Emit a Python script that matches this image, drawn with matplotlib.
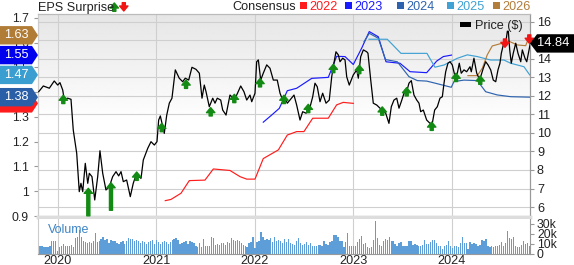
import matplotlib
matplotlib.use('Agg')
import matplotlib.pyplot as plt
import matplotlib.transforms as mtransforms
from matplotlib.patches import Polygon, Rectangle
from matplotlib.ticker import FuncFormatter
import numpy as np

plt.rcParams['font.family'] = ['Liberation Sans', 'DejaVu Sans']

# ---- data (x in decimal years) ----
price_t = [2019.804, 2019.851, 2019.912, 2019.962, 2019.997, 2020.020, 2020.048, 2020.064, 2020.098, 2020.132,
           2020.155, 2020.190, 2020.216, 2020.233, 2020.251, 2020.277, 2020.302, 2020.318, 2020.345, 2020.373,
           2020.403, 2020.426, 2020.454, 2020.487, 2020.521, 2020.555, 2020.589, 2020.616, 2020.640, 2020.663,
           2020.697, 2020.734, 2020.764, 2020.792, 2020.843, 2020.866, 2020.911, 2020.944, 2020.978, 2021.005,
           2021.022, 2021.039, 2021.056, 2021.079, 2021.104, 2021.130, 2021.157, 2021.191, 2021.231, 2021.266,
           2021.292, 2021.327, 2021.360, 2021.401, 2021.435, 2021.462, 2021.485, 2021.503, 2021.536, 2021.571,
           2021.594, 2021.617, 2021.652, 2021.672, 2021.706, 2021.746, 2021.780, 2021.814, 2021.855, 2021.888,
           2021.916, 2021.949, 2021.967, 2022.000, 2022.017, 2022.034, 2022.058, 2022.084, 2022.119, 2022.152,
           2022.186, 2022.226, 2022.254, 2022.281, 2022.305, 2022.328, 2022.355, 2022.396, 2022.423, 2022.457,
           2022.484, 2022.518, 2022.551, 2022.586, 2022.609, 2022.632, 2022.660, 2022.687, 2022.721, 2022.754,
           2022.779, 2022.795, 2022.822, 2022.846, 2022.863, 2022.890, 2022.914, 2022.931, 2022.957, 2022.998,
           2023.033, 2023.049, 2023.073, 2023.100, 2023.134, 2023.147, 2023.175, 2023.201, 2023.236, 2023.269,
           2023.292, 2023.327, 2023.360, 2023.384, 2023.411, 2023.439, 2023.462, 2023.485, 2023.513, 2023.540,
           2023.563, 2023.587, 2023.614, 2023.642, 2023.665, 2023.682, 2023.709, 2023.743, 2023.777, 2023.800,
           2023.824, 2023.851, 2023.878, 2023.902, 2023.919, 2023.936, 2023.959, 2023.980, 2024.003, 2024.027,
           2024.054, 2024.074, 2024.094, 2024.122, 2024.149, 2024.183, 2024.196, 2024.223, 2024.251, 2024.274,
           2024.291, 2024.318, 2024.342, 2024.366, 2024.393, 2024.419, 2024.444, 2024.467, 2024.487, 2024.501,
           2024.521, 2024.545, 2024.562, 2024.572, 2024.586, 2024.602, 2024.622, 2024.647, 2024.670, 2024.698,
           2024.714, 2024.741, 2024.759, 2024.782, 2024.795]
price_v = [12.23, 12.54, 12.42, 12.81, 12.59, 12.72, 12.32, 11.78, 11.88, 11.82,
           10.16, 8.90, 6.83, 7.28, 6.83, 8.36, 7.28, 7.82, 7.64, 6.38,
           7.64, 9.04, 7.82, 6.92, 7.10, 7.64, 7.91, 7.68, 7.91, 7.37,
           7.46, 6.56, 7.28, 7.73, 7.55, 8.54, 9.17, 9.53, 9.35, 9.53,
           10.70, 10.92, 10.52, 9.98, 10.97, 11.61, 11.88, 13.41, 12.96, 12.77,
           12.96, 12.86, 13.55, 13.44, 13.23, 11.88, 12.59, 12.23, 11.42, 11.88,
           11.61, 11.88, 11.78, 11.24, 10.97, 12.05, 11.88, 12.05, 12.54, 12.23,
           11.78, 12.05, 11.69, 12.15, 13.85, 13.95, 12.86, 13.23, 13.68, 13.50,
           12.86, 12.86, 12.15, 11.78, 11.88, 11.61, 11.78, 12.05, 11.51, 10.70,
           11.15, 11.07, 11.24, 11.96, 12.69, 12.50, 11.69, 12.15, 11.61, 11.78,
           13.04, 13.58, 14.39, 14.22, 13.85, 14.04, 13.95, 13.04, 12.59, 13.14,
           13.41, 12.96, 14.12, 14.49, 14.39, 14.31, 12.86, 11.61, 11.51, 11.34,
           11.24, 11.07, 10.52, 11.42, 11.78, 11.88, 11.34, 11.69, 12.15, 12.23,
           12.69, 12.83, 12.05, 11.78, 11.61, 11.15, 11.24, 10.70, 10.52, 10.52,
           11.24, 11.42, 11.88, 11.96, 12.69, 13.31, 13.77, 13.85, 13.68, 13.14,
           13.23, 13.77, 13.23, 13.41, 13.31, 13.58, 13.31, 14.04, 13.23, 12.96,
           13.04, 13.50, 13.85, 13.68, 13.41, 12.86, 12.77, 13.41, 13.77, 14.31,
           14.76, 14.85, 15.50, 15.50, 14.49, 13.77, 14.31, 14.85, 14.31, 13.85,
           14.49, 14.04, 13.85, 14.49, 14.84]

cons22_t = [2021.089, 2021.147, 2021.249, 2021.333, 2021.492, 2021.577, 2021.746, 2021.848, 2021.916, 2022.000,
            2022.084, 2022.237, 2022.328, 2022.423, 2022.497, 2022.586, 2022.744, 2022.829, 2022.896, 2022.998]
cons22_v = [0.962, 0.967, 0.992, 1.043, 1.045, 1.090, 1.084, 1.059, 1.049, 1.049,
            1.132, 1.167, 1.227, 1.241, 1.241, 1.295, 1.295, 1.349, 1.359, 1.355]
cons23_t = [2022.084, 2022.170, 2022.247, 2022.328, 2022.423, 2022.576, 2022.744, 2022.829, 2022.914, 2022.998,
            2023.083, 2023.160, 2023.252, 2023.330, 2023.472, 2023.574, 2023.743, 2023.845, 2023.912, 2023.995]
cons23_v = [1.279, 1.308, 1.335, 1.406, 1.416, 1.456, 1.460, 1.545, 1.544, 1.512,
            1.578, 1.645, 1.624, 1.523, 1.517, 1.483, 1.479, 1.526, 1.544, 1.55]
cons24_t = [2023.107, 2023.160, 2023.252, 2023.325, 2023.445, 2023.563, 2023.648, 2023.743, 2023.835, 2023.993,
            2024.020, 2024.122, 2024.257, 2024.342, 2024.460, 2024.596, 2024.789]
cons24_v = [1.604, 1.638, 1.618, 1.532, 1.523, 1.463, 1.447, 1.445, 1.436, 1.420,
            1.443, 1.449, 1.447, 1.402, 1.389, 1.382, 1.38]
cons25_t = [2023.157, 2023.343, 2023.482, 2023.746, 2023.827, 2023.919, 2024.054, 2024.156, 2024.257, 2024.393,
            2024.528, 2024.596, 2024.731, 2024.789]
cons25_v = [1.614, 1.614, 1.557, 1.557, 1.501, 1.510, 1.537, 1.551, 1.544, 1.530,
            1.530, 1.517, 1.503, 1.47]
cons26_t = [2024.162, 2024.257, 2024.308, 2024.358, 2024.409, 2024.528, 2024.572, 2024.663, 2024.748, 2024.789]
cons26_v = [1.467, 1.467, 1.497, 1.551, 1.587, 1.600, 1.607, 1.591, 1.588, 1.63]

cons_years = ['2022', '2023', '2024', '2025', '2026']
cons_last = [1.355, 1.55, 1.38, 1.47, 1.63]

surprise_t = [2020.054, 2020.308, 2020.538, 2020.799, 2021.053, 2021.300, 2021.550, 2021.790, 2022.051, 2022.294,
              2022.541, 2022.795, 2023.059, 2023.292, 2023.540, 2023.794, 2024.041, 2024.287, 2024.538, 2024.785]
surprise_v = [12.04, 7.01, 7.31, 7.89, 10.52, 12.86, 11.37, 12.09, 12.94, 12.04,
              11.55, 13.71, 13.66, 11.41, 12.45, 10.59, 13.23, 13.08, 14.63, 14.85]
surprise_up = [True] * 18 + [False, False]
surprise_scale = [1, 3.3, 3.3, 1, 1, 1, 1, 1, 1, 1, 1, 1, 1, 1, 1, 1, 1, 1, 1, 1]

# weekly volume, thousands
volume = [12.7, 8.3, 7.7, 7.3, 6.7, 7.3, 8.3, 13.3, 13.3, 13.3, 3.3, 6.7, 8.3, 10, 7.7, 8.3, 7.7, 9, 6.7, 16,
          16.7, 24, 16.7, 13.3, 11.7, 10.7, 11.7, 11, 13.3, 20.7, 11.7, 13.3, 15, 16.7, 14, 15, 10.7, 14, 12.7, 13.3,
          10.7, 10, 11.7, 13.3, 10, 13.3, 15.7, 15, 15, 12.7, 14, 12.7, 10.7, 13.3, 11.7, 10, 11.7, 13.3, 14, 10,
          14, 12.3, 10, 11.7, 13.3, 11.7, 10, 11.7, 14, 15, 15.7, 14, 10, 10.7, 11.7, 13.3, 10, 13.3, 11.7, 10.7,
          8.3, 6.7, 10.7,
          7.3, 15, 8.3, 7.7, 8.3, 17.3, 16, 9.3, 10, 9.3, 10.7, 10.7, 9.3, 11.7, 11, 16, 14, 12.7, 14, 13.3,
          10.7, 9, 8.3, 6.7, 10.7, 11.7, 16.7, 5.7, 11.7, 13.3, 21.7, 17.3, 14, 15, 14, 16, 11.7, 16.7, 12.7, 14,
          13.3, 10.7, 15, 11.7, 15, 10.7, 10, 9.3, 12.7, 16, 10.7, 9.3, 10, 11.7, 9.3, 10.7, 8.3, 8.3, 7.7, 9,
          9, 7.7, 12.7, 10, 9.3, 11.7, 12.7, 19, 19, 16.7, 12.7, 13.3, 6.7, 11.7, 20.7, 7.7, 8.3, 7.7, 7.7, 11.7,
          15, 18.3, 10,
          10.7, 6.7, 5.7, 7.3, 14, 33.3, 15.7, 9.3, 8.3, 12.7, 15, 14, 17.3, 12.7, 12.7, 10, 8.3, 10.7, 11.7, 7.7,
          7.7, 8.3, 13.3, 13.3, 9.3, 10, 9.3, 7.7, 7.7, 9.3, 14, 10, 10, 11.7, 14.3, 14, 10.7, 7.7, 8.3, 5,
          8.3, 9.3, 13.3, 8.3, 5.7, 8.3, 7.7, 7.3, 10.7, 17.3, 10.7, 11, 5, 11.7, 10, 10.7, 10, 8.3, 9.3, 14,
          13.3, 15, 8.3, 6.7, 7.7, 6.7, 8.3, 7.7, 9, 11.7, 7.7, 10.7, 22.7, 16, 15, 16.7, 7.7, 6.7, 6.7, 9.3,
          12.7, 10, 10.7, 8.3]
vol_t = np.linspace(2019.797, 2024.785, len(volume))

years = [2020, 2021, 2022, 2023, 2024]
eps_ticks = [0.9, 1.0, 1.1, 1.2, 1.3, 1.4, 1.5, 1.6, 1.7]
price_ticks = [6, 7, 8, 9, 10, 11, 12, 13, 14, 15, 16]
vol_ticks = [0, 10, 20, 30]

# ---- styles ----
C = ['#ff1c1c', '#1a1aff', '#2d63ae', '#3fa1d4', '#b27d3a']
FLAG_C = ['#ff1c1c', '#0000ee', '#2a5fa8', '#3a9fd0', '#b07c36']
GREEN, RED = '#138a13', '#f01414'
GRID = '#cfcfcf'
FS = 8.7
W, H = 574, 265


def box(l, t, r, b):
    return [l / W, 1 - b / H, (r - l) / W, (b - t) / H]


def arrow(axes, x, y, up, scale=1.0, coords='data'):
    L = 6 * scale
    axes.annotate('', xy=(x, y), xycoords=coords,
                  xytext=(0, -L if up else L), textcoords='offset points',
                  arrowprops=dict(arrowstyle='simple,head_length=0.36,head_width=0.6,tail_width=0.22',
                                  color=GREEN if up else RED, shrinkA=0, shrinkB=0,
                                  mutation_scale=10),
                  annotation_clip=False, zorder=6)


fig = plt.figure(figsize=(W / 100, H / 100), dpi=100)
ax = fig.add_axes(box(38, 14, 530, 217))
axp = ax.twinx()
axv = fig.add_axes(box(38, 218.5, 530, 254))

# gradient in the upper half
grad = np.linspace(1.0, 0.9, 64).reshape(-1, 1)
ax.imshow(grad, extent=(0, 1, 0.46, 1), transform=ax.transAxes, aspect='auto',
          cmap='gray', vmin=0, vmax=1, origin='lower', zorder=0, interpolation='bilinear')

# grid: verticals at years, horizontals at price ticks
ax.set_axisbelow(True)
ax.set_xticks(years)
ax.grid(axis='x', color=GRID, lw=0.8)
hz = mtransforms.blended_transform_factory(ax.transAxes, axp.transData)
for p in price_ticks:
    ax.plot([0, 1], [p, p], transform=hz, color=GRID, lw=0.8, zorder=0.5)

# consensus lines (EPS axis)
for (t, v), c in zip([(cons22_t, cons22_v), (cons23_t, cons23_v), (cons24_t, cons24_v),
                      (cons25_t, cons25_v), (cons26_t, cons26_v)], C):
    ax.plot(t, v, color=c, lw=0.85, zorder=3)

# price line and surprises
axp.plot(price_t, price_v, color='black', lw=0.9, zorder=4)
for t, v, up, s in zip(surprise_t, surprise_v, surprise_up, surprise_scale):
    arrow(axp, t, v, up, s)

# volume
axv.bar(vol_t, volume, width=0.0135, color='#5d9ed8', edgecolor='none', zorder=2)
axv.set_xticks(years)
axv.set_xticklabels([str(y) for y in years])
axv.grid(axis='x', color=GRID, lw=0.8)
axv.set_axisbelow(True)
axv.yaxis.tick_right()
axv.set_yticks(vol_ticks)
axv.set_yticklabels(['0'] + [f'{v}k' for v in vol_ticks[1:]])
axv.text(10 / 492, (254 - 233.3) / 35.5, 'Volume', transform=axv.transAxes,
         color='#3d85c6', fontsize=FS + 0.3, va='baseline', ha='left')

# limits
xl = (2019.797, 2024.792)
ax.set_xlim(xl)
axv.set_xlim(xl)
ax.set_ylim(0.896, 1.716)
axp.set_ylim(5.46, 16.43)
axv.set_ylim(0, 35.5)

# ticks
ax.set_yticks(eps_ticks)
ax.yaxis.set_major_formatter(FuncFormatter(lambda v, _: f'{v:g}'))
ax.tick_params(axis='x', length=0, labelbottom=False)
ax.tick_params(axis='y', labelsize=FS, colors='#999999', labelcolor='#222222', length=3, pad=3.5)
axp.set_yticks(price_ticks)
axp.tick_params(axis='y', labelsize=FS + 0.4, colors='#999999', labelcolor='#222222', length=3, pad=2)
axv.tick_params(axis='x', length=0, labelsize=FS + 0.4, labelcolor='#222222', pad=0.6)
axv.tick_params(axis='y', labelsize=FS, colors='#999999', labelcolor='#222222', length=3, pad=2)

for a in (ax, axp):
    a.spines['top'].set_color('#bbbbbb')
    a.spines['left'].set_color('#cccccc')
    a.spines['right'].set_color('#999999')
    a.spines['bottom'].set_color('#dddddd')
    a.spines['bottom'].set_linewidth(2.5)
axv.spines['top'].set_visible(False)
axv.spines['left'].set_color('#cccccc')
axv.spines['right'].set_color('#999999')
axv.spines['bottom'].set_color('#999999')

# header
fig.text(38 / W, 1 - 11.5 / H, 'EPS Surprise', fontsize=FS + 0.4, color='#222222', va='baseline')
arrow(axp, 114.3 / W, 1 - 3 / H, True, 1.0, 'figure fraction')
arrow(axp, 123.8 / W, 1 - 11 / H, False, 1.0, 'figure fraction')
fig.text(232 / W, 1 - 9.5 / H, 'Consensus', fontsize=FS + 0.4, color='#222222', va='baseline')
sq_x = [300, 345, 397, 447, 493]
for xs, c, lab in zip(sq_x, C, cons_years):
    fig.add_artist(Rectangle((xs / W, 1 - 8.5 / H), 7 / W, 6.5 / H, transform=fig.transFigure,
                             fc=c, ec='none'))
    fig.text((xs + 9) / W, 1 - 9.5 / H, lab, fontsize=FS + 0.4, color=c, va='baseline')

fig.add_artist(Rectangle((460 / W, 1 - 27.3 / H), 10.5 / W, 5 / H, transform=fig.transFigure,
                         fc='black', ec='none', zorder=5))
fig.text(475 / W, 1 - 28.5 / H, 'Price ($)', fontsize=FS + 0.4, color='#222222', va='baseline', zorder=5)


def fig_y(axes, v):
    return fig.transFigure.inverted().transform(axes.transData.transform((xl[0], v)))[1]


# left flags (last consensus values), red first so it sits underneath
hh = 9.2 / H
for i, (v, c) in enumerate(zip(cons_last, FLAG_C)):
    y = fig_y(ax, v)
    fig.add_artist(Polygon([(0, y - hh), (32 / W, y - hh), (38 / W, y), (32 / W, y + hh), (0, y + hh)],
                           closed=True, transform=fig.transFigure, fc=c, ec='none', zorder=4 + 2 * i))
    fig.text(16.5 / W, y, f'{v:.2f}', color='white', fontsize=FS + 0.4, ha='center', va='center',
             zorder=5 + 2 * i)

# right flag (last price)
y = fig_y(axp, price_v[-1])
fig.add_artist(Polygon([(530 / W, y), (537 / W, y - hh), (1, y - hh), (1, y + hh), (537 / W, y + hh)],
                       closed=True, transform=fig.transFigure, fc='black', ec='none', zorder=14))
fig.text(553.5 / W, y, f'{price_v[-1]:.2f}', color='white', fontsize=FS + 0.6, ha='center', va='center',
         zorder=15)

fig.savefig('out.png', dpi=100)
